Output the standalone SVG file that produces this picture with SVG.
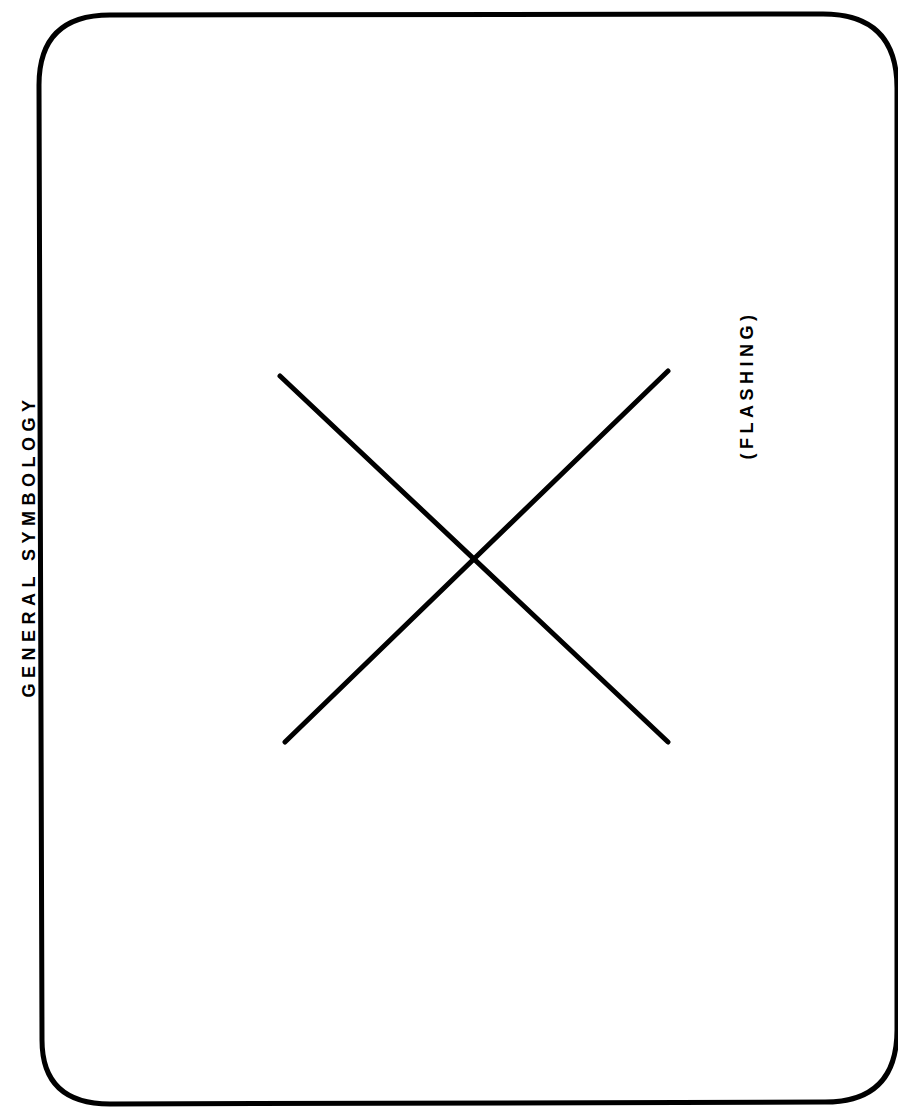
<svg xmlns="http://www.w3.org/2000/svg" width="898" height="1108" viewBox="0 0 898 1108">
<style>
.frame{fill:none;stroke:#000;stroke-width:5;}
.ln{fill:none;stroke:#000;stroke-width:5;stroke-linecap:round;}
.t{font-family:"Liberation Sans",Arial,sans-serif;font-weight:bold;font-size:18px;fill:#000;}
</style>
<rect width="898" height="1108" fill="#fff"/>
<g id="frame">
<path class="frame" d="M110,15 L823,14 Q897,14 897,88 L897,1030 Q897,1102 825,1102 L110,1104 Q42,1104 42,1040 L39,85 Q39,15 110,15 Z"/>
</g>
<g id="connectors">
<line class="ln" x1="280" y1="376" x2="668" y2="742"/>
<line class="ln" x1="285" y1="742" x2="668" y2="371"/>
</g>
<g id="label-general">
<text class="t" transform="translate(35,546) rotate(-90)" text-anchor="middle" letter-spacing="5.5">GENERAL SYMBOLOGY</text>
</g>
<g id="label-flashing">
<text class="t" transform="translate(753,385) rotate(-90)" text-anchor="middle" letter-spacing="4.5">(FLASHING)</text>
</g>
</svg>
